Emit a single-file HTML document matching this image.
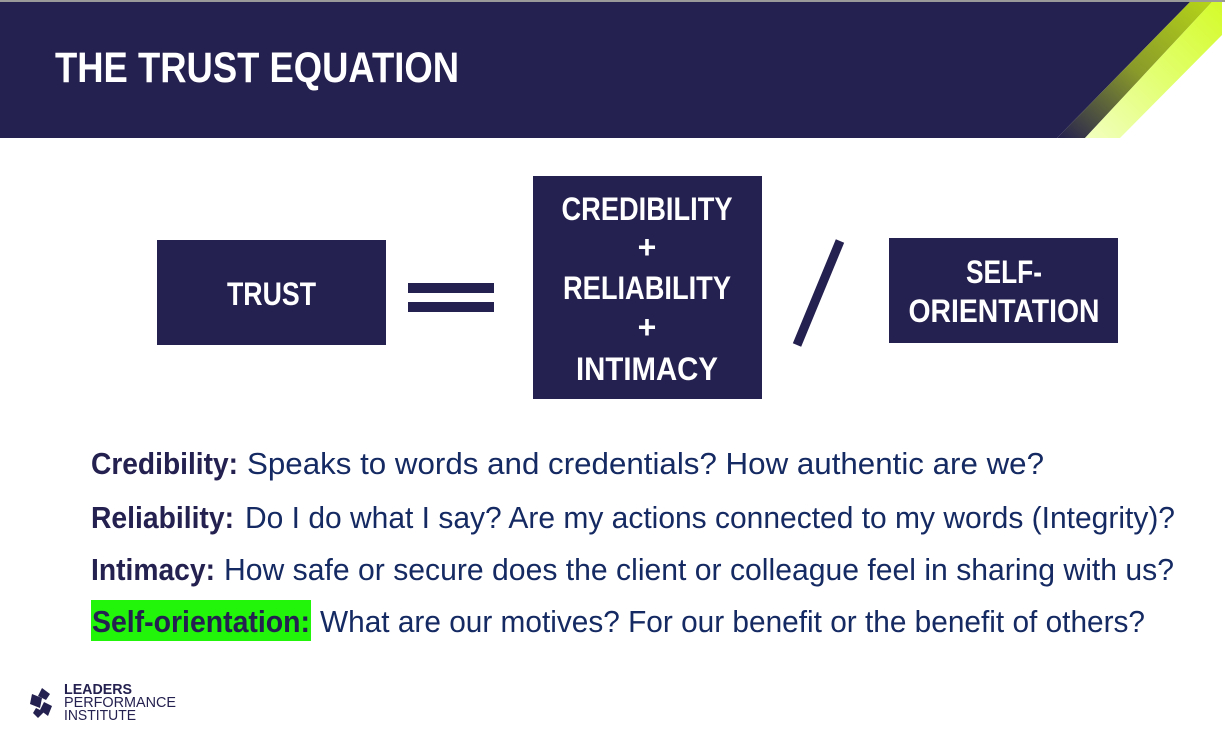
<!DOCTYPE html>
<html><head><meta charset="utf-8"><style>
html,body{margin:0;padding:0;background:#fff;}
svg{display:block;}
text{font-family:"Liberation Sans",sans-serif;}
</style></head><body>
<svg width="1225" height="747" viewBox="0 0 1225 747" xmlns="http://www.w3.org/2000/svg">
<defs>
<linearGradient id="g1" x1="0" y1="1" x2="1" y2="0">
<stop offset="0" stop-color="#24204f"/><stop offset="0.5" stop-color="#8a9a2a"/><stop offset="1" stop-color="#b5d418"/>
</linearGradient>
<linearGradient id="g2" x1="0" y1="1" x2="1" y2="0">
<stop offset="0" stop-color="#f2ffc0"/><stop offset="0.5" stop-color="#e2ff70"/><stop offset="1" stop-color="#d4fb2a"/>
</linearGradient>
</defs>
<rect x="0" y="0" width="1225" height="2" fill="#9a9a9a"/>
<polygon points="0,2 1190,2 1057,138 0,138" fill="#24204f"/>
<polygon points="1190,2 1212,2 1085,138 1057,138" fill="url(#g1)"/>
<polygon points="1212,2 1222,2 1222,35 1120,138 1085,138" fill="url(#g2)"/>
<text x="55" y="82" font-size="43" font-weight="bold" fill="#fff" textLength="404" lengthAdjust="spacingAndGlyphs">THE TRUST EQUATION</text>

<rect x="157" y="240" width="229" height="105" fill="#24204f"/>
<text x="227" y="305" font-size="32" font-weight="bold" fill="#fff" textLength="89" lengthAdjust="spacingAndGlyphs">TRUST</text>
<rect x="408" y="283" width="86" height="10" fill="#24204f"/>
<rect x="408" y="302" width="86" height="10" fill="#24204f"/>
<rect x="533" y="176" width="229" height="223" fill="#24204f"/>
<g font-size="32" font-weight="bold" fill="#fff" text-anchor="middle">
<text x="647" y="220" textLength="171" lengthAdjust="spacingAndGlyphs">CREDIBILITY</text>
<text x="647" y="258">+</text>
<text x="647" y="299" textLength="168" lengthAdjust="spacingAndGlyphs">RELIABILITY</text>
<text x="647" y="338">+</text>
<text x="647" y="380" textLength="142" lengthAdjust="spacingAndGlyphs">INTIMACY</text>
</g>
<line x1="840" y1="241" x2="797" y2="345" stroke="#24204f" stroke-width="9"/>
<rect x="889" y="238" width="229" height="105" fill="#24204f"/>
<g font-size="32" font-weight="bold" fill="#fff" text-anchor="middle">
<text x="1004" y="283" textLength="76" lengthAdjust="spacingAndGlyphs">SELF-</text>
<text x="1004" y="322" textLength="191" lengthAdjust="spacingAndGlyphs">ORIENTATION</text>
</g>

<rect x="91" y="600" width="220" height="41" fill="#22f50a"/>
<g font-size="31">
<text x="91" y="474" font-weight="bold" fill="#24204f" textLength="147" lengthAdjust="spacingAndGlyphs">Credibility:</text>
<text x="247" y="474" fill="#152a62" textLength="797" lengthAdjust="spacingAndGlyphs">Speaks to words and credentials? How authentic are we?</text>
<text x="91" y="528" font-weight="bold" fill="#24204f" textLength="143" lengthAdjust="spacingAndGlyphs">Reliability:</text>
<text x="245" y="528" fill="#152a62" textLength="930" lengthAdjust="spacingAndGlyphs">Do I do what I say? Are my actions connected to my words (Integrity)?</text>
<text x="91" y="580" font-weight="bold" fill="#24204f" textLength="124" lengthAdjust="spacingAndGlyphs">Intimacy:</text>
<text x="224" y="580" fill="#152a62" textLength="950" lengthAdjust="spacingAndGlyphs">How safe or secure does the client or colleague feel in sharing with us?</text>
<text x="92" y="632" font-weight="bold" fill="#24204f" textLength="218" lengthAdjust="spacingAndGlyphs">Self-orientation:</text>
<text x="320" y="632" fill="#152a62" textLength="825" lengthAdjust="spacingAndGlyphs">What are our motives? For our benefit or the benefit of others?</text>
</g>

<g fill="#24204f">
<polygon points="42,688 50,694 46,700 38,696"/>
<polygon points="32,694 42,698 40,708 30,704"/>
<polygon points="44,702 52,706 48,716 40,710"/>
<polygon points="36,708 44,712 38,718 33,713"/>
</g>
<text x="64" y="694" font-size="15" font-weight="bold" fill="#24204f" textLength="68" lengthAdjust="spacingAndGlyphs">LEADERS</text>
<text x="64" y="707" font-size="15" fill="#24204f" textLength="112" lengthAdjust="spacingAndGlyphs">PERFORMANCE</text>
<text x="64" y="720" font-size="15" fill="#24204f" textLength="72" lengthAdjust="spacingAndGlyphs">INSTITUTE</text>
</svg>
</body></html>
